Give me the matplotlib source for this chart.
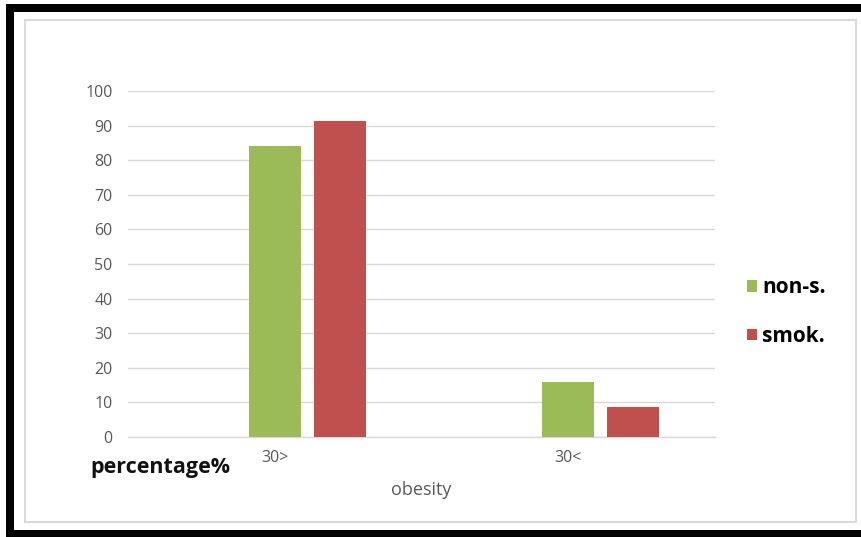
import matplotlib
matplotlib.use("Agg")
import matplotlib.pyplot as plt
from matplotlib.patches import Rectangle
import numpy as np

# Data
categories = ["30>", "30<"]
non_smokers = [84.2, 15.8]
smokers = [91.3, 8.7]
series_labels = ["non-s.", "smok."]
y_ticks = [0, 10, 20, 30, 40, 50, 60, 70, 80, 90, 100]

green = "#9bbb59"
red = "#c0504d"
grid_col = "#d9d9d9"
text_col = "#595959"

W, H = 862, 537
fig = plt.figure(figsize=(W / 100, H / 100), dpi=100)
fig.patch.set_facecolor("white")


def px_rect(x0, y0, x1, y1, **kw):
    """Rectangle given in pixel coordinates measured from the top-left."""
    r = Rectangle((x0 / W, 1 - y1 / H), (x1 - x0) / W, (y1 - y0) / H,
                  transform=fig.transFigure, **kw)
    fig.add_artist(r)
    return r


# Black frame (left, top, bottom)
px_rect(6, 4, 14, 537, facecolor="black", edgecolor="none")
px_rect(6, 4, 862, 12, facecolor="black", edgecolor="none")
px_rect(6, 530, 862, 537, facecolor="black", edgecolor="none")
# Light chart-area border
px_rect(25, 20, 856, 522, facecolor="none", edgecolor="#d9d9d9", linewidth=1.5)

# Plot area
ax_l, ax_r, ax_t, ax_b = 128, 715, 91, 437
ax = fig.add_axes([ax_l / W, 1 - ax_b / H, (ax_r - ax_l) / W, (ax_b - ax_t) / H])
ax.set_facecolor("none")

x = np.arange(len(categories))
bar_w = 0.177
step = 0.2215
b1 = ax.bar(x, non_smokers, width=bar_w, color=green, label=series_labels[0], zorder=3)
b2 = ax.bar(x + step, smokers, width=bar_w, color=red, label=series_labels[1], zorder=3)

ax.set_xlim(-0.5, 1.5)
ax.set_ylim(0, 100)
ax.set_yticks(y_ticks)
ax.set_xticks(x)
ax.set_xticklabels(categories)
ax.yaxis.grid(True, color=grid_col, linewidth=1.0, zorder=0)
ax.set_axisbelow(True)
for s in ["top", "right", "left"]:
    ax.spines[s].set_visible(False)
ax.spines["bottom"].set_color(grid_col)
ax.spines["bottom"].set_linewidth(1.0)
ax.tick_params(axis="both", length=0, colors=text_col, labelsize=11.5)
ax.tick_params(axis="y", pad=11)
ax.tick_params(axis="x", pad=9)
for lab in ax.get_xticklabels() + ax.get_yticklabels():
    lab.set_fontfamily("Open Sans")

ax.set_xlabel("obesity", fontsize=13, color=text_col, family="Open Sans", labelpad=11)

fig.text(160 / W, 1 - 468 / H, "percentage%", ha="center", va="center",
         fontsize=15.5, fontweight="bold", family="Open Sans", color="#111111")

leg = ax.legend(handles=[b1, b2], labels=series_labels, loc="center left",
                bbox_to_anchor=(728 / W, 1 - 312 / H), bbox_transform=fig.transFigure,
                frameon=False, handlelength=0.5, handleheight=0.45,
                handletextpad=0.25, labelspacing=1.3,
                prop={"family": "Open Sans", "weight": "bold", "size": 15})

fig.savefig("out.png", dpi=100, facecolor="white")
